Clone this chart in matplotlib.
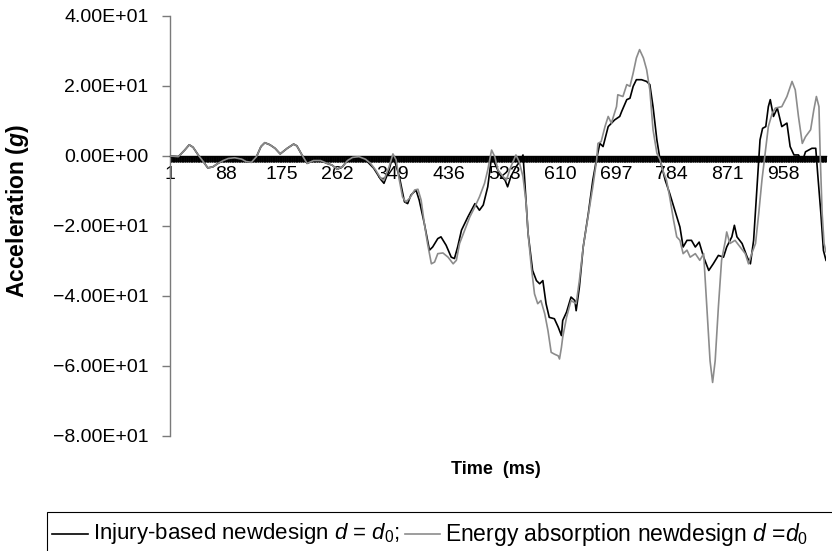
import matplotlib
matplotlib.use("Agg")
import matplotlib.pyplot as plt
import numpy as np
from matplotlib.lines import Line2D
from matplotlib.patches import Rectangle
from matplotlib.ticker import FixedLocator, FixedFormatter

plt.rcParams['font.family'] = ['Liberation Sans', 'DejaVu Sans']
plt.rcParams['mathtext.fontset'] = 'custom'
plt.rcParams['mathtext.rm'] = 'Liberation Sans'
plt.rcParams['mathtext.it'] = 'Liberation Sans:italic'
plt.rcParams['mathtext.bf'] = 'Liberation Sans:bold'
plt.rcParams['mathtext.bfit'] = 'Liberation Sans:italic:bold'

# ---------------- data ----------------
n_samples = 1025

injury_t = [1, 14, 24, 31, 37, 45, 53, 60, 68, 76, 84, 92, 102, 113, 120, 128, 136, 143, 149, 157,
            165, 173, 184, 194, 199, 207, 215, 225, 236, 246, 254, 262, 270, 278, 286,
            309, 319, 330, 335, 343, 349, 359, 367, 372, 377, 385, 390, 398, 406, 411, 419, 424, 432, 440, 445,
            450, 456, 466, 477, 484, 490, 497, 503, 508, 516, 524, 528, 533, 541, 549, 552, 554, 560, 567, 573,
            578, 583, 588, 593, 601, 607, 612, 614, 620, 627, 633, 635, 640, 646, 654, 661, 667, 672, 677, 685,
            695, 703, 706, 714, 719, 724, 729, 737, 745, 750, 755, 761, 766, 774, 781, 789, 797, 802, 808, 815,
            821, 827, 834, 842, 849, 857, 865, 870, 878, 882, 886, 894, 902, 907, 912, 917, 922, 926, 931, 935,
            938, 943, 949, 956, 964, 969, 975, 982, 988, 993, 1003, 1009, 1012, 1017, 1021, 1025]
injury_acc = [0.0, -0.2, 1.7, 3.2, 2.5, 0.3, -1.6, -3.4, -3.1, -2.1, -1.3, -0.7, -0.5, -0.9, -1.6, -1.8, -0.2, 2.7, 3.8, 3.2,
              2.2, 0.6, 2.2, 3.4, 2.9, 0.3, -2.1, -1.3, -1.3, -2.1, -2.6, -3.8, -3.1, -1.3, -0.4,
              -1.6, -3.5, -6.7, -7.8, -4.0, 0.3, -5.9, -13.1, -13.6, -11.2, -9.7, -12.6, -19.3, -26.9, -26.0, -23.6, -23.1, -25.5, -28.9, -29.3,
              -26.0, -21.2, -17.4, -13.6, -15.5, -14.0, -8.8, -0.2, -2.1, -5.4, -6.9, -8.8, -5.9, -3.1, -1.1, 0.3, -5.0, -22.2, -32.7, -35.6,
              -36.5, -35.6, -42.2, -46.1, -46.5, -48.9, -51.3, -47.0, -44.6, -40.3, -41.3, -44.2, -37.5, -26.0, -16.4, -6.9, -0.7, 3.6, 2.7, 8.4,
              10.3, 11.3, 12.7, 16.1, 16.5, 19.9, 21.8, 21.8, 21.3, 20.4, 14.1, 4.6, -1.1, -6.9, -10.7, -15.5, -20.3, -26.0, -24.1, -24.1,
              -26.0, -24.6, -28.9, -32.7, -30.8, -28.4, -28.9, -26.0, -23.1, -19.8, -23.1, -25.0, -28.9, -30.8, -24.1, -9.7, 4.6, 7.9, 8.4, 14.1,
              16.1, 11.3, 13.7, 8.4, 9.4, 2.7, 0.3, 0.3, -1.6, 1.2, 2.2, 2.2, -5.0, -16.4, -27.0, -29.8]

energy_t = [1, 14, 24, 31, 37, 45, 53, 60, 68, 76, 84, 92, 102, 113, 120, 128, 136, 143, 149, 157,
            165, 173, 184, 194, 199, 207, 215, 225, 236, 246, 254, 262, 270, 278, 286, 296, 306, 314, 322, 330,
            335, 343, 349, 354, 359, 364, 369, 375, 383, 388, 393, 398, 403, 409, 414, 419, 427, 435, 443, 448,
            453, 461, 469, 477, 484, 492, 497, 503, 508, 513, 521, 526, 533, 541, 546, 552, 557, 560, 565, 570,
            575, 580, 586, 591, 596, 601, 607, 609, 612, 614, 620, 627, 635, 640, 646, 651, 656, 661, 667, 669,
            674, 680, 685, 690, 698, 700, 708, 714, 719, 724, 729, 734, 740, 745, 750, 755, 761, 766, 771, 776,
            781, 787, 792, 797, 802, 808, 813, 821, 828, 834, 839, 844, 848, 852, 857, 862, 868, 870, 875, 883,
            891, 899, 904, 909, 915, 920, 925, 930, 935, 941, 946, 956, 964, 972, 977, 982, 988, 993, 1001, 1006,
            1010, 1014, 1016, 1019, 1022, 1025]
energy_acc = [0.0, -0.2, 1.7, 3.2, 2.5, 0.3, -1.6, -3.4, -3.1, -2.1, -1.3, -0.7, -0.5, -0.9, -1.6, -1.8, -0.2, 2.7, 3.8, 3.2,
              2.2, 0.6, 2.2, 3.4, 2.9, 0.3, -2.1, -1.3, -1.3, -2.1, -2.6, -3.8, -3.1, -1.3, -0.4, -0.2, -0.9, -2.1, -4.0, -6.4,
              -6.9, -3.1, 0.6, -1.1, -6.9, -11.7, -13.1, -12.1, -9.7, -9.5, -12.6, -19.3, -25.0, -30.8, -30.3, -27.9, -27.7, -28.9, -30.8, -29.8,
              -25.0, -21.2, -17.4, -14.5, -11.7, -7.8, -4.0, 1.7, -0.2, -4.0, -5.9, -6.9, -3.1, 0.3, -1.6, -5.9, -13.6, -22.2, -31.7, -39.4,
              -42.2, -41.3, -45.1, -49.9, -56.1, -56.6, -57.1, -58.0, -54.7, -51.8, -46.1, -41.3, -42.2, -35.6, -26.0, -20.3, -14.5, -8.8, -1.1, 3.6,
              4.1, 8.4, 11.3, 9.4, 14.1, 17.5, 17.0, 20.4, 19.9, 23.7, 28.0, 30.4, 28.0, 24.7, 18.9, 7.5, 0.8, -1.1, -4.5, -6.9,
              -11.7, -18.3, -23.1, -24.1, -27.9, -26.9, -28.9, -27.9, -29.8, -27.9, -43.2, -58.5, -64.7, -58.5, -43.2, -29.8, -24.1, -21.7, -25.0, -24.1,
              -26.0, -27.9, -30.8, -27.9, -25.0, -16.4, -6.9, 0.8, 8.4, 12.2, 13.7, 14.1, 17.0, 21.3, 18.9, 11.3, 3.6, 5.5, 7.5, 13.2,
              17.0, 14.1, -0.2, -16.4, -25.0, -27.4]

xtick_values = [1, 88, 175, 262, 349, 436, 523, 610, 697, 784, 871, 958]
xtick_labels = [str(v) for v in xtick_values]
ytick_values = [40, 20, 0, -20, -40, -60, -80]
ytick_labels = ['4.00E+01', '2.00E+01', '0.00E+00', '\u22122.00E+01', '\u22124.00E+01',
                '\u22126.00E+01', '\u22128.00E+01']

series_labels = [r'Injury-based newdesign $d$ = $d_0$;', r'Energy absorption newdesign $d$ =$d_0$']

# ---------------- figure ----------------
W, H = 832, 551
fig = plt.figure(figsize=(W / 100, H / 100), dpi=100)
ax = fig.add_axes([170 / W, (H - 436) / H, 656 / W, 420 / H])

ax.plot(injury_t, injury_acc, color='black', lw=1.2, zorder=3)
ax.plot(energy_t, energy_acc, color='#8c8c8c', lw=1.2, zorder=4)

ax.set_xlim(1, n_samples)
ax.set_ylim(-80, 40)

for s in ['top', 'right']:
    ax.spines[s].set_visible(False)
ax.spines['bottom'].set_position(('data', 0))
ax.spines['bottom'].set_color('black')
ax.spines['bottom'].set_linewidth(1.0)
ax.spines['left'].set_color('#7a7a7a')
ax.spines['left'].set_linewidth(1.0)

ax.xaxis.set_major_locator(FixedLocator(xtick_values))
ax.xaxis.set_major_formatter(FixedFormatter(xtick_labels))
ax.xaxis.set_minor_locator(FixedLocator(np.arange(1, n_samples + 1)))
ax.tick_params(axis='x', which='both', direction='out', length=4.5, width=0.7,
               color='black', labelsize=14, pad=3)

ax.yaxis.set_major_locator(FixedLocator(ytick_values))
ax.yaxis.set_major_formatter(FixedFormatter(ytick_labels))
ax.tick_params(axis='y', which='major', direction='out', length=5.5, width=1.0,
               color='#7a7a7a', labelsize=14, pad=10)

fig.text(18 / W, 1 - 211 / H, r'Acceleration ($\mathbfit{g}$)', rotation=90,
         ha='center', va='center', fontsize=16.5, fontweight='bold')
fig.text(496 / W, 1 - 470 / H, 'Time  (ms)', ha='center', va='center',
         fontsize=13, fontweight='bold')

# legend box (extends past the right edge, as in the original)
fig.add_artist(Rectangle((47 / W, -10 / H), 820 / W, (39 + 10) / H, transform=fig.transFigure,
                         fill=False, edgecolor='black', lw=0.8, clip_on=False))
ly = 1 - 534 / H
fig.add_artist(Line2D([52 / W, 88 / W], [ly, ly], transform=fig.transFigure, color='black', lw=1.2))
fig.text(93 / W, ly, series_labels[0], ha='left', va='center', fontsize=16)
fig.add_artist(Line2D([405 / W, 440 / W], [ly, ly], transform=fig.transFigure, color='#8c8c8c', lw=1.2))
fig.text(445 / W, ly, series_labels[1], ha='left', va='center', fontsize=16.5)

fig.savefig('out.png', dpi=100)
